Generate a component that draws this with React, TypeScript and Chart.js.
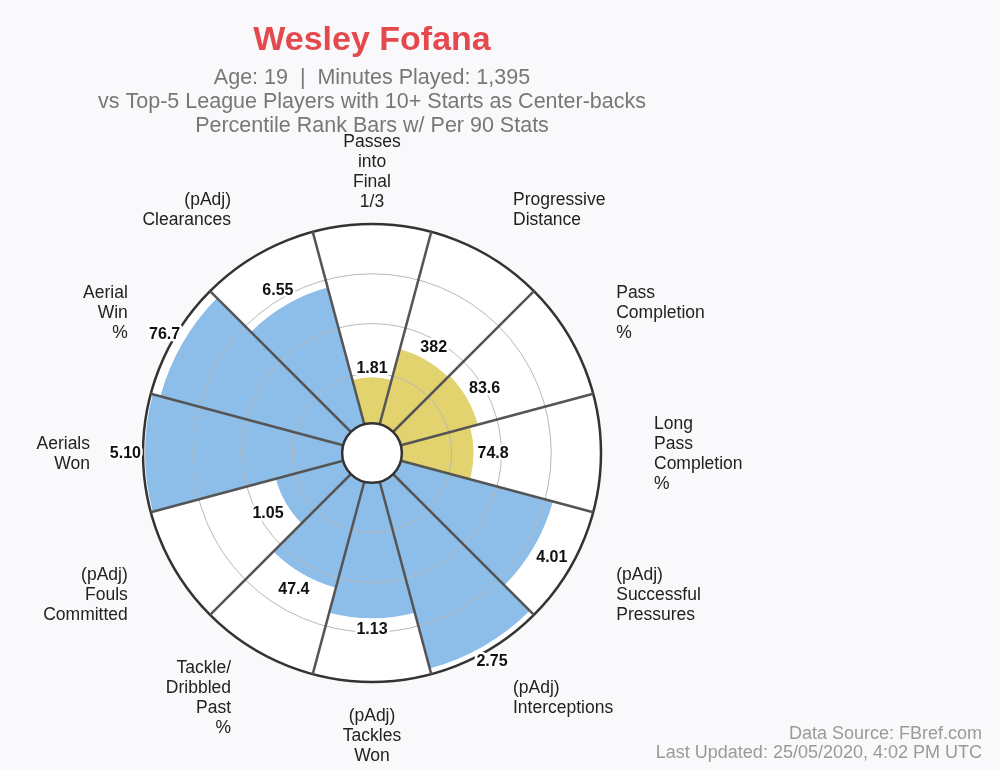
import React, { useEffect, useRef } from "react";
import { Chart, registerables } from "chart.js";

Chart.register(...registerables);

const FONT = "'Liberation Sans', Arial, Helvetica, sans-serif";

const playerName = "Wesley Fofana";
const subtitleLines = [
  "Age: 19  |  Minutes Played: 1,395",
  "vs Top-5 League Players with 10+ Starts as Center-backs",
  "Percentile Rank Bars w/ Per 90 Stats",
];
const footerLines = ["Data Source: FBref.com", "Last Updated: 25/05/2020, 4:02 PM UTC"];

const categories: string[][] = [
  ["Passes", "into", "Final", "1/3"],
  ["Progressive", "Distance"],
  ["Pass", "Completion", "%"],
  ["Long", "Pass", "Completion", "%"],
  ["(pAdj)", "Successful", "Pressures"],
  ["(pAdj)", "Interceptions"],
  ["(pAdj)", "Tackles", "Won"],
  ["Tackle/", "Dribbled", "Past", "%"],
  ["(pAdj)", "Fouls", "Committed"],
  ["Aerials", "Won"],
  ["Aerial", "Win", "%"],
  ["(pAdj)", "Clearances"],
];

// percentile rank of each stat (bar length)
const percentiles = [23, 39, 40, 36, 79, 97, 68, 55, 35, 99, 95, 71];

// per-90 stat values shown as bar labels
const statValues = ["1.81", "382", "83.6", "74.8", "4.01", "2.75", "1.13", "47.4", "1.05", "5.10", "76.7", "6.55"];

// stat group of each bar
const statGroups = [
  "passing", "passing", "passing", "passing",
  "defending", "defending", "defending", "defending",
  "defending", "defending", "defending", "defending",
];

const groupColors: Record<string, string> = {
  passing: "#e2d36f",
  defending: "#8dbde9",
};

const gridTicks = [0, 25, 50, 75, 100];
const scaleMin = -15;
const scaleMax = 100;

const overlayPlugin = {
  id: "pizzaOverlay",
  beforeDraw(chart: any) {
    const { ctx, width, height } = chart;
    const scale = chart.scales.r;
    ctx.save();
    ctx.fillStyle = "#f9f9fb";
    ctx.fillRect(0, 0, width, height);
    ctx.beginPath();
    ctx.arc(scale.xCenter, scale.yCenter, scale.getDistanceFromCenterForValue(scaleMax), 0, Math.PI * 2);
    ctx.fillStyle = "#ffffff";
    ctx.fill();
    ctx.restore();
  },
  afterDraw(chart: any) {
    const { ctx } = chart;
    const scale = chart.scales.r;
    const xC = scale.xCenter;
    const yC = scale.yCenter;
    const n = categories.length;
    const half = Math.PI / n;

    ctx.save();
    // centre hole
    ctx.beginPath();
    ctx.arc(xC, yC, scale.getDistanceFromCenterForValue(0), 0, Math.PI * 2);
    ctx.fillStyle = "#ffffff";
    ctx.fill();
    ctx.lineWidth = 2.5;
    ctx.strokeStyle = "#333333";
    ctx.stroke();

    // value labels
    ctx.font = `bold 16px ${FONT}`;
    ctx.textAlign = "center";
    ctx.textBaseline = "middle";
    ctx.lineJoin = "round";
    for (let i = 0; i < n; i++) {
      const unit = scale.getPointPosition(i, 1, half);
      const ux = unit.x - xC;
      const uy = unit.y - yC;
      const text = statValues[i];
      const w = ctx.measureText(text).width;
      const d = scale.getDistanceFromCenterForValue(percentiles[i]) + 4 + Math.abs(ux) * (w / 2) + Math.abs(uy) * 6;
      const pos = scale.getPointPosition(i, d, half);
      ctx.lineWidth = 5;
      ctx.strokeStyle = "#ffffff";
      ctx.strokeText(text, pos.x, pos.y + 1);
      ctx.fillStyle = "#111111";
      ctx.fillText(text, pos.x, pos.y + 1);
    }

    // category labels
    ctx.font = `17.5px ${FONT}`;
    ctx.fillStyle = "#222222";
    const labelDist = scale.drawingArea + 53;
    for (let i = 0; i < n; i++) {
      const pos = scale.getPointPosition(i, labelDist, half);
      const dx = pos.x - xC;
      ctx.textAlign = Math.abs(dx) < 1 ? "center" : dx > 0 ? "left" : "right";
      const lines = categories[i];
      lines.forEach((line, j) => {
        ctx.fillText(line, pos.x, pos.y + (j - (lines.length - 1) / 2) * 20 + 1);
      });
    }

    // footer
    ctx.font = `18px ${FONT}`;
    ctx.fillStyle = "#9a9a9a";
    ctx.textAlign = "right";
    ctx.textBaseline = "alphabetic";
    footerLines.forEach((line, j) => {
      ctx.fillText(line, 982, 739 + j * 19);
    });
    ctx.restore();
  },
};

export default function App() {
  const canvasRef = useRef<HTMLCanvasElement | null>(null);

  useEffect(() => {
    if (!canvasRef.current) return;
    Chart.defaults.font.family = FONT;
    const chart = new Chart(canvasRef.current, {
      type: "polarArea",
      data: {
        labels: categories,
        datasets: [
          {
            data: percentiles,
            backgroundColor: statGroups.map((g) => groupColors[g]),
            borderWidth: 0,
          },
        ],
      },
      options: {
        animation: false,
        responsive: true,
        maintainAspectRatio: false,
        layout: { padding: { left: 0, right: 256, top: 0, bottom: 88 } },
        plugins: {
          legend: { display: false },
          tooltip: { enabled: false },
          title: {
            display: true,
            text: playerName,
            color: "#e4494e",
            font: { family: FONT, size: 34, weight: "bold", lineHeight: 40 / 34 },
            padding: { top: 21, bottom: 0 },
          },
          subtitle: {
            display: true,
            text: subtitleLines,
            color: "#777777",
            font: { family: FONT, size: 21.5, lineHeight: 24 / 21.5 },
            padding: { top: 5, bottom: 86 },
          },
        },
        scales: {
          r: {
            min: scaleMin,
            max: scaleMax,
            startAngle: -15,
            ticks: { display: false, z: 1 },
            afterBuildTicks: (s: any) => {
              s.ticks = gridTicks.map((v) => ({ value: v }));
            },
            grid: {
              z: 1,
              circular: true,
              color: (c: any) => (c.tick && c.tick.value === scaleMax ? "#333333" : "#b8b8b8"),
              lineWidth: (c: any) => (c.tick && c.tick.value === scaleMax ? 2.5 : 1),
            },
            angleLines: { display: true, color: "#555555", lineWidth: 2.5 },
            pointLabels: { display: false },
          },
        },
      } as any,
      plugins: [overlayPlugin],
    });
    return () => chart.destroy();
  }, []);

  return (
    <div style={{ position: "absolute", left: 0, top: 0, width: 1000, height: 770, background: "#f9f9fb" }}>
      <canvas ref={canvasRef} />
    </div>
  );
}
